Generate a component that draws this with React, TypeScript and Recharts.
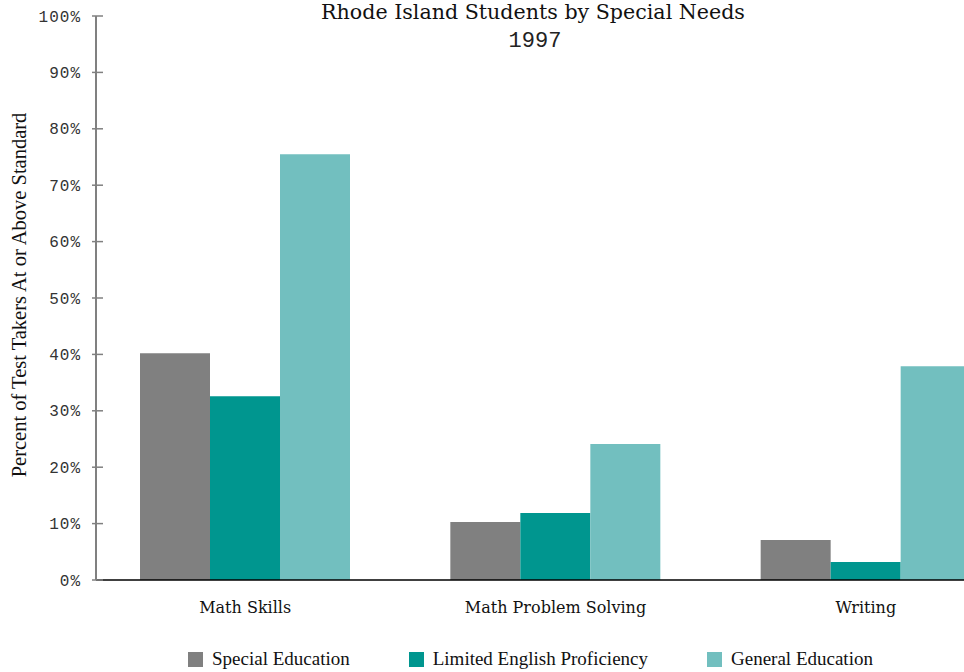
import { Bar, BarChart, Legend, XAxis, YAxis } from "recharts";

// 1997 results, percent of test takers at or above standard
const categories = ["Math Skills", "Math Problem Solving", "Writing"];
const specialEducation = [40.2, 10.3, 7.1];
const limitedEnglish = [32.6, 11.9, 3.2];
const generalEducation = [75.5, 24.1, 37.9];
const yTicks = [0, 10, 20, 30, 40, 50, 60, 70, 80, 90, 100];

const series = [
  { key: "special", name: "Special Education", color: "#808080" },
  { key: "lep", name: "Limited English Proficiency", color: "#00968f" },
  { key: "general", name: "General Education", color: "#72bfbf" },
];

const data = categories.map((name, i) => ({
  name,
  special: specialEducation[i],
  lep: limitedEnglish[i],
  general: generalEducation[i],
}));

const SERIF = "'DejaVu Serif', serif";
const TIMES = "'Liberation Serif', serif";
const MONO = "'Liberation Mono', monospace";

const YTick = (props: any) => {
  const { x, y, payload } = props;
  return (
    <g>
      <line x1={x - 4} x2={x + 7} y1={y} y2={y} stroke="#808080" strokeWidth={1.5} />
      <text
        x={x - 15}
        y={y}
        dy="0.35em"
        textAnchor="end"
        fontFamily={MONO}
        fontSize={16}
        letterSpacing={1}
        fill="#333"
      >
        {payload.value}%
      </text>
    </g>
  );
};

const XTick = (props: any) => {
  const { x, y, payload } = props;
  return (
    <text x={x} y={y + 33} textAnchor="middle" fontFamily={SERIF} fontSize={16} fill="#111">
      {payload.value}
    </text>
  );
};

const YTitle = () => (
  <text
    x={26}
    y={295}
    transform="rotate(-90 26 295)"
    textAnchor="middle"
    fontFamily={TIMES}
    fontSize={20.5}
    fill="#111"
  >
    Percent of Test Takers At or Above Standard
  </text>
);

const LegendContent = () => (
  <div
    style={{
      display: "flex",
      alignItems: "center",
      height: 26,
      paddingTop: 14,
      paddingLeft: 188,
      gap: 59,
      fontFamily: TIMES,
      fontSize: 19,
      color: "#111",
    }}
  >
    {series.map((s) => (
      <div key={s.key} style={{ display: "flex", alignItems: "center", gap: 9 }}>
        <span style={{ width: 15, height: 15, background: s.color, display: "inline-block" }} />
        <span>{s.name}</span>
      </div>
    ))}
  </div>
);

export default function App() {
  return (
    <div
      style={{
        position: "fixed",
        left: 0,
        top: 0,
        width: 964,
        height: 672,
        overflow: "hidden",
        background: "#fff",
      }}
    >
      <BarChart
        width={1021}
        height={672}
        data={data}
        margin={{ top: 16, right: 0, bottom: 0, left: 0 }}
        barCategoryGap={50}
        barGap={0}
      >
        <XAxis
          dataKey="name"
          height={52}
          tickLine={false}
          tickSize={0}
          tickMargin={0}
          tick={<XTick />}
          axisLine={{ stroke: "#000", strokeWidth: 1.5 }}
          padding={{ left: -6, right: 0 }}
          interval={0}
        />
        <YAxis
          width={96}
          domain={[0, 100]}
          ticks={yTicks}
          tickLine={false}
          tickSize={0}
          tickMargin={0}
          tick={<YTick />}
          axisLine={{ stroke: "#808080", strokeWidth: 2 }}
          label={<YTitle />}
        />
        <Legend
          verticalAlign="bottom"
          content={<LegendContent />}
          wrapperStyle={{ left: 0, bottom: 0, width: 964, height: 40 }}
        />
        {series.map((s) => (
          <Bar key={s.key} dataKey={s.key} name={s.name} fill={s.color} isAnimationActive={false} />
        ))}
      </BarChart>
      <div
        style={{
          position: "absolute",
          left: 0,
          width: 1066,
          top: 0,
          textAlign: "center",
          fontFamily: SERIF,
          fontSize: 20.6,
          lineHeight: "24px",
          color: "#111",
        }}
      >
        Rhode Island Students by Special Needs
      </div>
      <div
        style={{
          position: "absolute",
          left: 0,
          width: 1070,
          top: 30,
          textAlign: "center",
          fontFamily: MONO,
          fontSize: 22,
          lineHeight: "24px",
          color: "#222",
        }}
      >
        1997
      </div>
    </div>
  );
}
